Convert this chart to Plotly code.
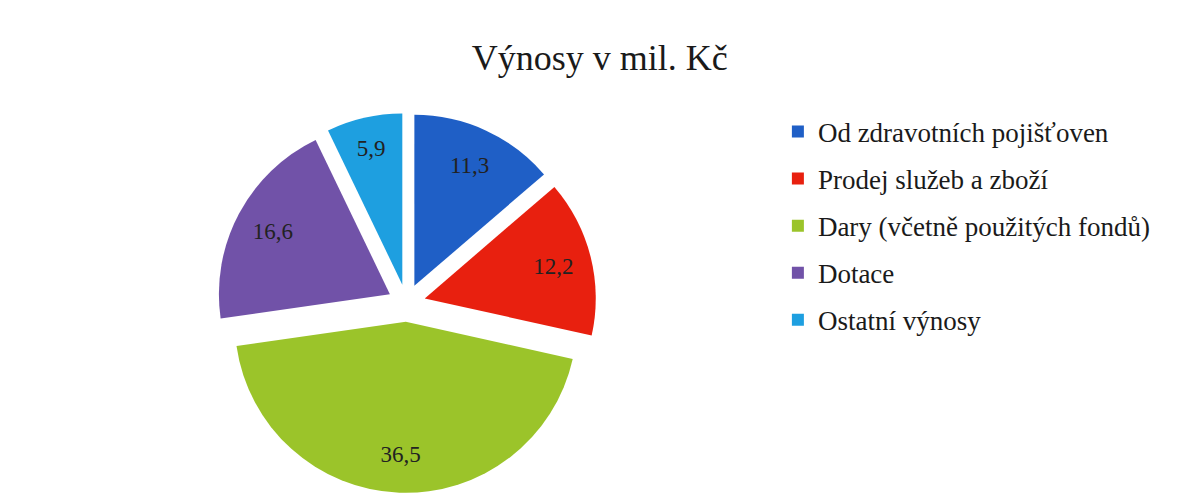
import plotly.graph_objects as go

labels = ["Od zdravotních pojišťoven", "Prodej služeb a zboží",
          "Dary (včetně použitých fondů)", "Dotace", "Ostatní výnosy"]
values = [11.3, 12.2, 36.5, 16.6, 5.9]
colors = ["#1f5fc6", "#e8200f", "#9bc42a", "#7152a8", "#1e9fe0"]
title = "Výnosy v mil. Kč"

FONT = "Liberation Serif"
texts = [f"{v:.1f}".replace(".", ",") for v in values]
domain = dict(x=[0.177, 0.499], y=[0.024, 0.789])
pull = [0.11] * len(values)

fig = go.Figure()
# coloured slices
fig.add_trace(go.Pie(
    labels=labels, values=values, textinfo="none",
    marker=dict(colors=colors, line=dict(width=0)),
    sort=False, direction="clockwise", rotation=0,
    pull=pull, showlegend=False, hoverinfo="label+value", domain=domain,
))
# transparent ring overlay that carries the value labels near the outer edge
fig.add_trace(go.Pie(
    labels=labels, values=values, text=texts, textinfo="text",
    textposition="inside", insidetextorientation="horizontal",
    textfont=dict(family=FONT, size=23, color="#222222"),
    marker=dict(colors=["rgba(0,0,0,0)"] * len(values), line=dict(width=0)),
    sort=False, direction="clockwise", rotation=0, hole=0.55,
    pull=pull, showlegend=False, hoverinfo="skip", domain=domain,
))
for i, (lab, col) in enumerate(zip(labels, colors)):
    fig.add_trace(go.Scatter(
        x=[None], y=[None], mode="markers", name=lab,
        marker=dict(symbol="square", size=8, color=col),
        legendgroup=f"g{i}", showlegend=True,
    ))

fig.update_layout(
    width=1179, height=497,
    paper_bgcolor="white", plot_bgcolor="white",
    margin=dict(l=0, r=0, t=0, b=0),
    title=dict(text=title, x=0.502, xanchor="center", y=0.9, yanchor="middle",
               font=dict(family=FONT, size=36, color="#1a1a1a")),
    xaxis=dict(visible=False), yaxis=dict(visible=False),
    legend=dict(x=0.653, y=0.8, xanchor="left", yanchor="top",
                font=dict(family=FONT, size=27, color="#1a1a1a"),
                tracegroupgap=9, itemsizing="constant",
                bgcolor="rgba(0,0,0,0)"),
)
fig.write_html("out.html")
